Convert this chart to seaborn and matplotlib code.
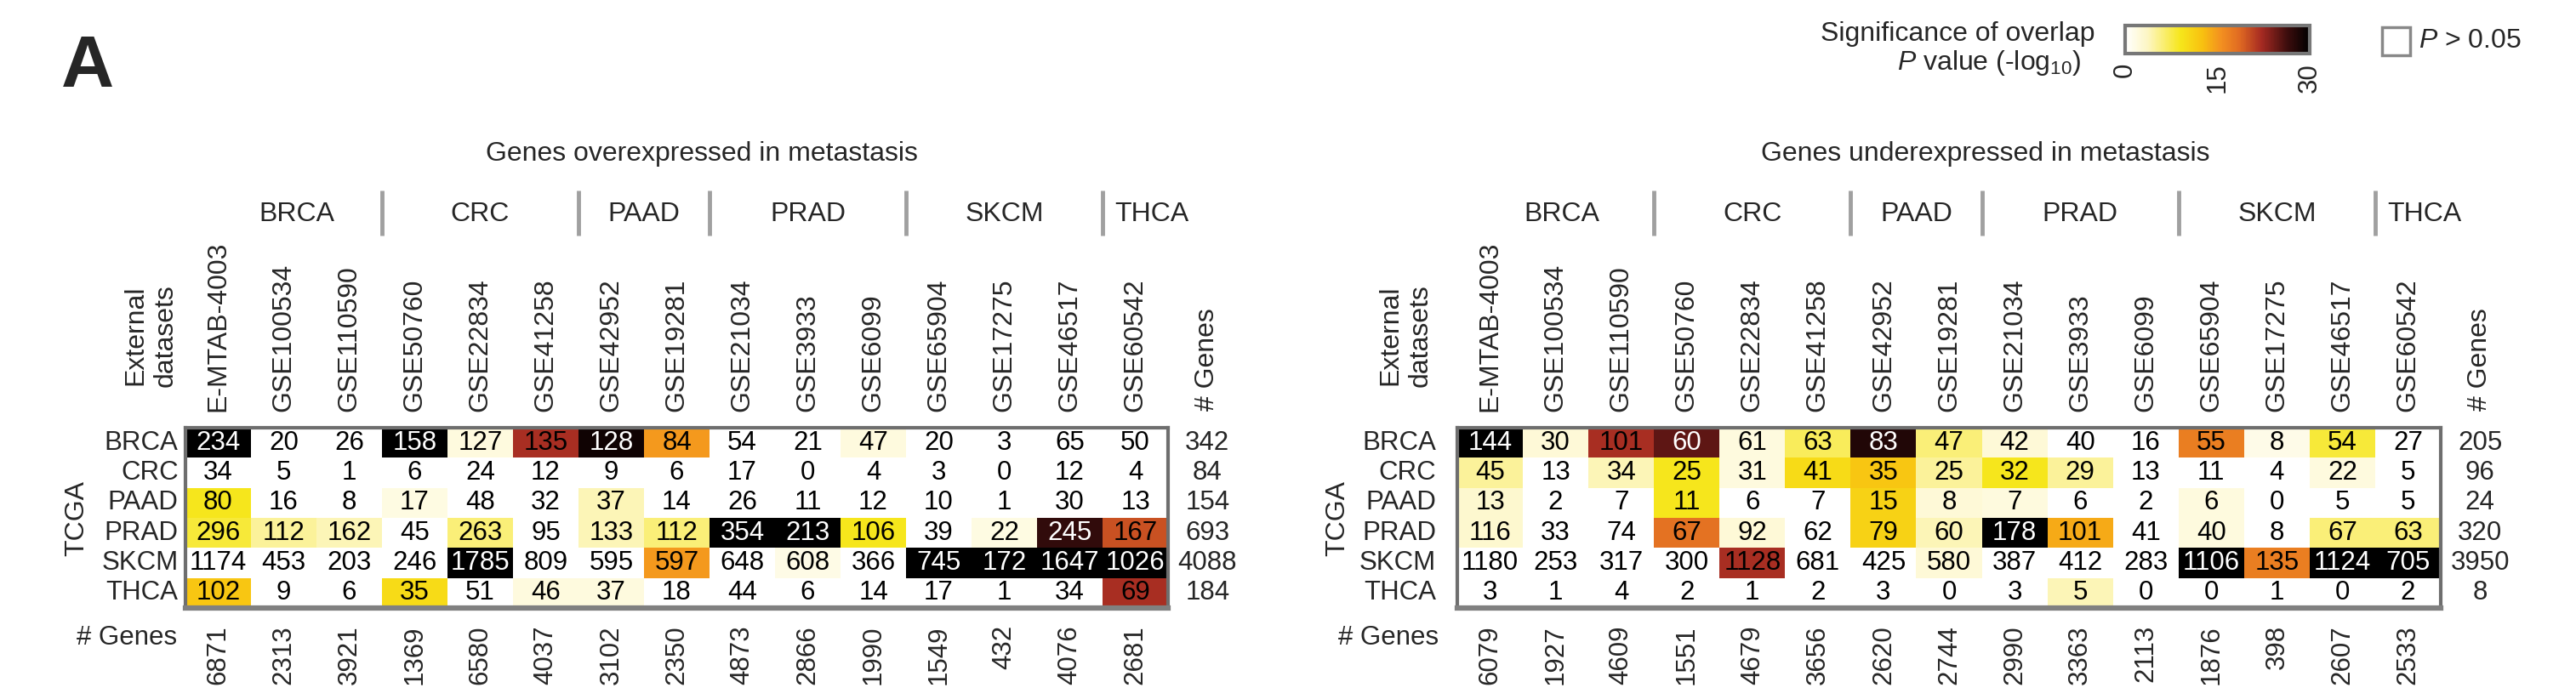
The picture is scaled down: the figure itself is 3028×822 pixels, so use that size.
import numpy as np
import pandas as pd
import matplotlib
matplotlib.use('Agg')
import matplotlib.pyplot as plt
import seaborn as sns
from matplotlib.colors import LinearSegmentedColormap
from matplotlib.patches import Rectangle

datasets = ['E-MTAB-4003', 'GSE100534', 'GSE110590', 'GSE50760', 'GSE22834', 'GSE41258',
            'GSE42952', 'GSE19281', 'GSE21034', 'GSE3933', 'GSE6099', 'GSE65904',
            'GSE17275', 'GSE46517', 'GSE60542']
tcga = ['BRCA', 'CRC', 'PAAD', 'PRAD', 'SKCM', 'THCA']
groups = ['BRCA', 'CRC', 'PAAD', 'PRAD', 'SKCM', 'THCA']
group_sizes = [3, 3, 2, 3, 3, 1]

# overlap counts, genes overexpressed in metastasis
over_counts = [
    [234, 20, 26, 158, 127, 135, 128, 84, 54, 21, 47, 20, 3, 65, 50],
    [34, 5, 1, 6, 24, 12, 9, 6, 17, 0, 4, 3, 0, 12, 4],
    [80, 16, 8, 17, 48, 32, 37, 14, 26, 11, 12, 10, 1, 30, 13],
    [296, 112, 162, 45, 263, 95, 133, 112, 354, 213, 106, 39, 22, 245, 167],
    [1174, 453, 203, 246, 1785, 809, 595, 597, 648, 608, 366, 745, 172, 1647, 1026],
    [102, 9, 6, 35, 51, 46, 37, 18, 44, 6, 14, 17, 1, 34, 69],
]
# -log10 P (0 = P > 0.05)
over_logp = [
    [30, 0, 0, 30, 2, 22, 29, 15, 0, 0, 2, 0, 0, 0, 0],
    [0, 0, 0, 0, 0, 0, 0, 0, 0, 0, 0, 0, 0, 0, 0],
    [9, 0, 0, 1.8, 0, 0, 4, 0, 0, 0, 0, 0, 0, 0, 0],
    [8, 5, 4, 0, 6, 0, 4, 6, 30, 30, 9, 0, 1.8, 27, 20],
    [0, 0, 0, 0, 30, 0, 0, 15, 0, 1.6, 0, 30, 30, 30, 30],
    [12, 0, 0, 10, 0, 2, 2, 0, 0, 0, 0, 0, 0, 0, 22],
]
over_tcga_total = [342, 84, 154, 693, 4088, 184]
over_dataset_total = [6871, 2313, 3921, 1369, 6580, 4037, 3102, 2350, 4873, 2866,
                      1990, 1549, 432, 4076, 2681]

# genes underexpressed in metastasis
under_counts = [
    [144, 30, 101, 60, 61, 63, 83, 47, 42, 40, 16, 55, 8, 54, 27],
    [45, 13, 34, 25, 31, 41, 35, 25, 32, 29, 13, 11, 4, 22, 5],
    [13, 2, 7, 11, 6, 7, 15, 8, 7, 6, 2, 6, 0, 5, 5],
    [116, 33, 74, 67, 92, 62, 79, 60, 178, 101, 41, 40, 8, 67, 63],
    [1180, 253, 317, 300, 1128, 681, 425, 580, 387, 412, 283, 1106, 135, 1124, 705],
    [3, 1, 4, 2, 1, 2, 3, 0, 3, 5, 0, 0, 1, 0, 2],
]
under_logp = [
    [30, 2.5, 22, 25, 2, 7, 28, 6, 2.5, 0, 0, 17, 1.5, 8, 0],
    [5, 0, 4, 9, 2, 10, 12, 5, 9, 5, 0, 0, 0, 2, 0],
    [3, 0, 0, 9, 0, 0, 11, 2.5, 2, 0, 0, 2, 0, 0, 0],
    [3, 0, 0, 18, 2.5, 0, 11, 4, 30, 14, 0, 2, 0, 6, 6],
    [0, 0, 0, 0, 22, 0, 0, 2.5, 0, 0, 0, 30, 17, 30, 30],
    [0, 0, 0, 0, 0, 0, 0, 0, 0, 4, 0, 0, 0, 0, 0],
]
under_tcga_total = [205, 96, 24, 320, 3950, 8]
under_dataset_total = [6079, 1927, 4609, 1551, 4679, 3656, 2620, 2744, 2990, 3363,
                       2113, 1876, 398, 2607, 2533]

sns.set_style('white')
plt.rcParams['font.family'] = ['Liberation Sans', 'DejaVu Sans']
plt.rcParams['mathtext.fontset'] = 'custom'
plt.rcParams['mathtext.rm'] = 'Liberation Sans'
plt.rcParams['mathtext.it'] = 'Liberation Sans:italic'

FS = 22.5
FS_HEAD = 23
cmap = LinearSegmentedColormap.from_list('sig', [
    (0.0, '#ffffff'), (0.12, '#fdf6c4'), (0.3, '#f6e61a'), (0.42, '#f8c010'),
    (0.52, '#f39020'), (0.62, '#e06a22'), (0.74, '#a52a22'), (0.88, '#3c0d0d'),
    (1.0, '#000000')])

W, H = 3028, 822
fig = plt.figure(figsize=(W / 100, H / 100), dpi=100)


def draw_panel(ax, counts, logp, row_tot, col_tot, title, title_x,
               ypad, tcga_x, ext_x, genes_x, first_shift):
    df_c = pd.DataFrame(counts, index=tcga, columns=datasets)
    df_p = pd.DataFrame(logp, index=tcga, columns=datasets)
    sns.heatmap(df_p, ax=ax, cmap=cmap, vmin=0, vmax=30, annot=df_c, fmt='d',
                annot_kws={'size': FS}, cbar=False,
                xticklabels=True, yticklabels=True)
    for t, v in zip(ax.texts, np.array(logp).ravel()):
        t.set_color('white' if v >= 24 else 'black')

    ax.xaxis.tick_top()
    ax.tick_params(axis='x', length=0, pad=14, labelsize=FS_HEAD, labelrotation=90)
    ax.tick_params(axis='y', length=0, pad=ypad, labelsize=FS, labelrotation=0)
    ax.set_xlabel('')
    ax.set_ylabel('')
    for sp in ax.spines.values():
        sp.set_visible(True)
        sp.set_color('#6e6e6e')
        sp.set_linewidth(3)
    ax.spines['bottom'].set_linewidth(4.5)
    ax.spines['bottom'].set_color('#808080')

    n = len(datasets)
    for i, v in enumerate(row_tot):
        ax.text(n + 0.6, i + 0.5, str(v), ha='center', va='center', fontsize=FS)
    for j, v in enumerate(col_tot):
        ax.text(j + 0.5, 6.57, str(v), ha='center', va='top', rotation=90, fontsize=FS)
    ax.text(n + 0.6, -0.57, '# Genes', ha='center', va='bottom', rotation=90, fontsize=FS_HEAD)
    ax.text(genes_x, 7.0, '# Genes', ha='right', va='center', fontsize=FS)

    # group headers and separators
    start = 0
    for k, (g, s) in enumerate(zip(groups, group_sizes)):
        cx = start + s / 2
        if s == 1:
            cx += 0.25
        if k == 0:
            cx += first_shift
        ax.text(cx, -7.1, g, ha='center', va='center', fontsize=FS_HEAD)
        start += s
        if k < len(groups) - 1:
            ax.plot([start, start], [-7.9, -6.4], color='#a0a0a0', lw=3.5,
                    clip_on=False, solid_capstyle='butt')

    ax.text(title_x, -9.1, title, ha='center', va='center', fontsize=FS_HEAD)
    ax.text(tcga_x, 0.5, 'TCGA', transform=ax.transAxes, rotation=90,
            ha='center', va='center', fontsize=FS_HEAD)
    ax.text(ext_x, 1.226, 'External\ndatasets', transform=ax.transAxes, rotation=90,
            ha='center', va='bottom', multialignment='center', fontsize=FS_HEAD)


ax1 = fig.add_axes([218 / W, 1 - 715 / H, 1155 / W, 212 / H])
draw_panel(ax1, over_counts, over_logp, over_tcga_total, over_dataset_total,
           'Genes overexpressed in metastasis', 7.88, 6, -0.111, -0.0355, -0.13, 0.2)

ax2 = fig.add_axes([1713 / W, 1 - 715 / H, 1156 / W, 212 / H])
draw_panel(ax2, under_counts, under_logp, under_tcga_total, under_dataset_total,
           'Genes underexpressed in metastasis', 8.05, 18, -0.122, -0.0527, -0.29, 0.1)

# colour legend
cax = fig.add_axes([2498 / W, 1 - 63 / H, 217 / W, 33 / H])
cb = fig.colorbar(ax1.collections[0], cax=cax, orientation='horizontal', ticks=[0, 15, 30])
cb.outline.set_edgecolor('#777777')
cb.outline.set_linewidth(3)
cax.tick_params(length=0, labelsize=FS, labelrotation=90, pad=8)

fig.text(2462 / W, 1 - 40 / H, 'Significance of overlap', ha='right', va='center', fontsize=FS_HEAD)
fig.text(2446 / W, 1 - 74 / H, r'$\mathit{P}$ value (-log$_{10}$)', ha='right', va='center',
         fontsize=FS_HEAD)

fig.add_artist(Rectangle((2800 / W, 1 - 65 / H), 33 / W, 33 / H, transform=fig.transFigure,
                         facecolor='white', edgecolor='#888888', lw=2.5))
fig.text(2843 / W, 1 - 48 / H, r'$\mathit{P}$ > 0.05', ha='left', va='center', fontsize=FS_HEAD)

fig.text(72 / W, 1 - 102 / H, 'A', fontsize=62, fontweight='bold', ha='left', va='baseline')

fig.savefig('out.png', dpi=100)
